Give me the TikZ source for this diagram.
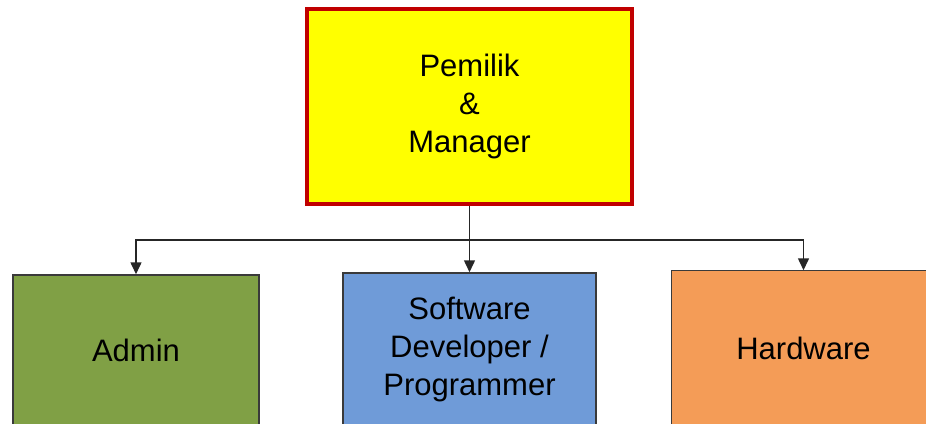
\documentclass[tikz,border=0pt]{standalone}
\usepackage{fontspec}
\setmainfont{Liberation Sans}
\usetikzlibrary{positioning,arrows.meta}

\definecolor{bossyellow}{HTML}{FFFF00}
\definecolor{bossred}{HTML}{C00000}
\definecolor{admingreen}{HTML}{80A045}
\definecolor{softblue}{HTML}{6F9BD8}
\definecolor{hardorange}{HTML}{F49C57}
\definecolor{edgegray}{HTML}{3A3A3A}

\tikzset{
  unit/.style = {draw=edgegray, line width=1.5pt, align=center, inner sep=0pt,
                 font=\fontsize{31}{38}\selectfont},
  link/.style = {draw=black!85, line width=1.5pt},
  linkarrow/.style = {link, -{Triangle[length=12pt,width=11pt]}}
}

\begin{document}
\begin{tikzpicture}[x=1pt, y=-1pt]
        \useasboundingbox (0,0) rectangle (926,423) ; %
        \node[unit, fill=bossyellow, draw=bossred, line width=4.5pt,
              minimum width=325pt, minimum height=195pt] (pemilik) at (469.5,106.5) {Pemilik\\\&\\Manager} ; %
        \node[unit, fill=admingreen, minimum width=246pt, minimum height=150pt] (admin) at (136,350) {Admin} ; %
        \node[unit, fill=softblue, minimum width=253pt, minimum height=152pt] (software) at (469.5,349) {Software\\Developer /\\Programmer} ; %
        \node[unit, fill=hardorange, draw=none, minimum width=263pt, minimum height=154pt] (hardware) at (803.5,348) {Hardware} ; %
        \draw[link, draw=edgegray] (hardware.south west) |- (hardware.north east) ; % box runs off the page
        %
        \coordinate (split) at (469.5,240) ; %
        %
        \draw[linkarrow] (pemilik.south) -- (software.north) ; %
        \draw[linkarrow] (split) -| (admin.north) ; %
        \draw[linkarrow] (split) -| (hardware.north) ; %
\end{tikzpicture}
\end{document}
